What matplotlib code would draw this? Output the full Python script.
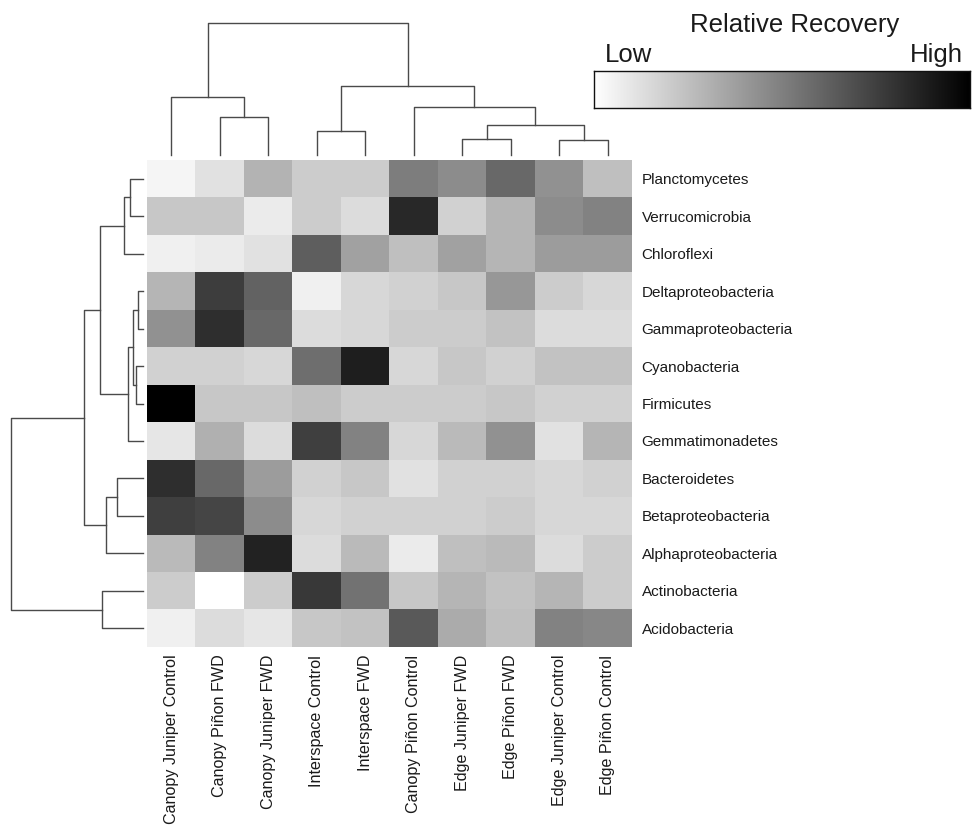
import matplotlib
matplotlib.use("Agg")
import matplotlib.pyplot as plt
import numpy as np

plt.rcParams['font.family'] = ['Liberation Sans', 'DejaVu Sans']

# samples (columns) and phyla (rows) in dendrogram order
samples = ["Canopy Juniper Control", "Canopy Piñon FWD", "Canopy Juniper FWD",
           "Interspace Control", "Interspace FWD", "Canopy Piñon Control",
           "Edge Juniper FWD", "Edge Piñon FWD", "Edge Juniper Control",
           "Edge Piñon Control"]
phyla = ["Planctomycetes", "Verrucomicrobia", "Chloroflexi", "Deltaproteobacteria",
         "Gammaproteobacteria", "Cyanobacteria", "Firmicutes", "Gemmatimonadetes",
         "Bacteroidetes", "Betaproteobacteria", "Alphaproteobacteria",
         "Actinobacteria", "Acidobacteria"]

# relative recovery, 0 = low, 1 = high
recovery = np.array([
    [.04, .12, .30, .20, .20, .51, .45, .59, .43, .25],
    [.22, .22, .08, .20, .14, .84, .18, .29, .45, .49],
    [.06, .08, .12, .63, .37, .25, .37, .29, .39, .39],
    [.29, .76, .61, .06, .16, .18, .22, .41, .20, .16],
    [.43, .82, .59, .14, .16, .20, .20, .24, .14, .14],
    [.18, .18, .16, .57, .88, .16, .22, .18, .24, .24],
    [1.0, .22, .22, .25, .20, .20, .20, .22, .18, .18],
    [.10, .31, .14, .75, .49, .16, .27, .43, .12, .29],
    [.82, .59, .39, .18, .22, .12, .18, .18, .16, .18],
    [.75, .73, .45, .16, .18, .18, .18, .20, .16, .16],
    [.27, .49, .86, .14, .27, .08, .25, .27, .14, .20],
    [.20, .00, .20, .78, .55, .22, .29, .24, .29, .20],
    [.06, .14, .10, .22, .24, .65, .33, .25, .49, .47],
])

# linkage: (node a, node b, height); new nodes numbered from n upward
col_links = [(1, 2, .383), (0, 10, .583), (3, 4, .24), (6, 7, .157), (8, 9, .15),
             (13, 14, .30), (5, 15, .483), (12, 16, .693), (11, 17, 1.323)]
row_links = [(0, 1, .133), (13, 2, .193), (3, 4, .056), (5, 6, .073), (15, 16, .10),
             (17, 7, .15), (14, 18, .433), (8, 9, .266), (20, 10, .373),
             (19, 21, .593), (11, 12, .416), (22, 23, 1.323)]

line_col = '#4a4a4a'
text_col = '#1a1a1a'


def draw_dendro(ax, links, n, side):
    pos = {i: float(i) for i in range(n)}
    hgt = {i: 0.0 for i in range(n)}
    for k, (a, b, h) in enumerate(links):
        xs = [pos[a], pos[a], pos[b], pos[b]]
        ys = [hgt[a], h, h, hgt[b]]
        if side == 'top':
            ax.plot(xs, ys, color=line_col, lw=1.0, clip_on=False)
        else:
            ax.plot(ys, xs, color=line_col, lw=1.0, clip_on=False)
        pos[n + k] = (pos[a] + pos[b]) / 2
        hgt[n + k] = h
    ax.set_axis_off()


W, H = 972, 832
fig = plt.figure(figsize=(W / 100, H / 100), dpi=100)

def px_axes(x0, y0, x1, y1):
    return fig.add_axes([x0 / W, 1 - y1 / H, (x1 - x0) / W, (y1 - y0) / H])

# heatmap
ax = px_axes(147, 160, 632, 647)
ax.imshow(recovery, cmap='gray_r', vmin=0, vmax=1, aspect='auto', interpolation='nearest')
ax.set_xticks(range(len(samples)))
ax.set_xticklabels(samples, rotation=90, fontsize=11.6, color=text_col)
ax.set_yticks(range(len(phyla)))
ax.set_yticklabels(phyla, fontsize=11, color=text_col)
ax.yaxis.tick_right()
ax.tick_params(length=0)
ax.tick_params(axis='y', pad=7)
ax.tick_params(axis='x', pad=5.5)
for s in ax.spines.values():
    s.set_visible(False)

# column dendrogram
axt = px_axes(147, 22.7, 632, 155)
draw_dendro(axt, col_links, len(samples), 'top')
axt.set_xlim(-0.5, len(samples) - 0.5)
axt.set_ylim(0, col_links[-1][2])

# row dendrogram
axl = px_axes(11, 160, 143.3, 647)
draw_dendro(axl, row_links, len(phyla), 'left')
axl.set_ylim(len(phyla) - 0.5, -0.5)
axl.set_xlim(row_links[-1][2], 0)

# colour key
axc = px_axes(594, 71, 970, 108)
axc.imshow(np.linspace(0, 1, 256)[None, :], cmap='gray_r', vmin=0, vmax=1,
           aspect='auto', extent=[0, 1, 0, 1])
axc.set_xticks([])
axc.set_yticks([])
for s in axc.spines.values():
    s.set_linewidth(1.0)
    s.set_color('#111111')

fig.text(795 / W, 1 - 31.7 / H, "Relative Recovery", ha='center', va='baseline',
         fontsize=18.5, color=text_col)
fig.text(605 / W, 1 - 61.7 / H, "Low", ha='left', va='baseline', fontsize=18.5,
         color=text_col)
fig.text(963 / W, 1 - 61.7 / H, "High", ha='right', va='baseline', fontsize=18.5,
         color=text_col)

fig.savefig("out.png", dpi=100, facecolor='white')
